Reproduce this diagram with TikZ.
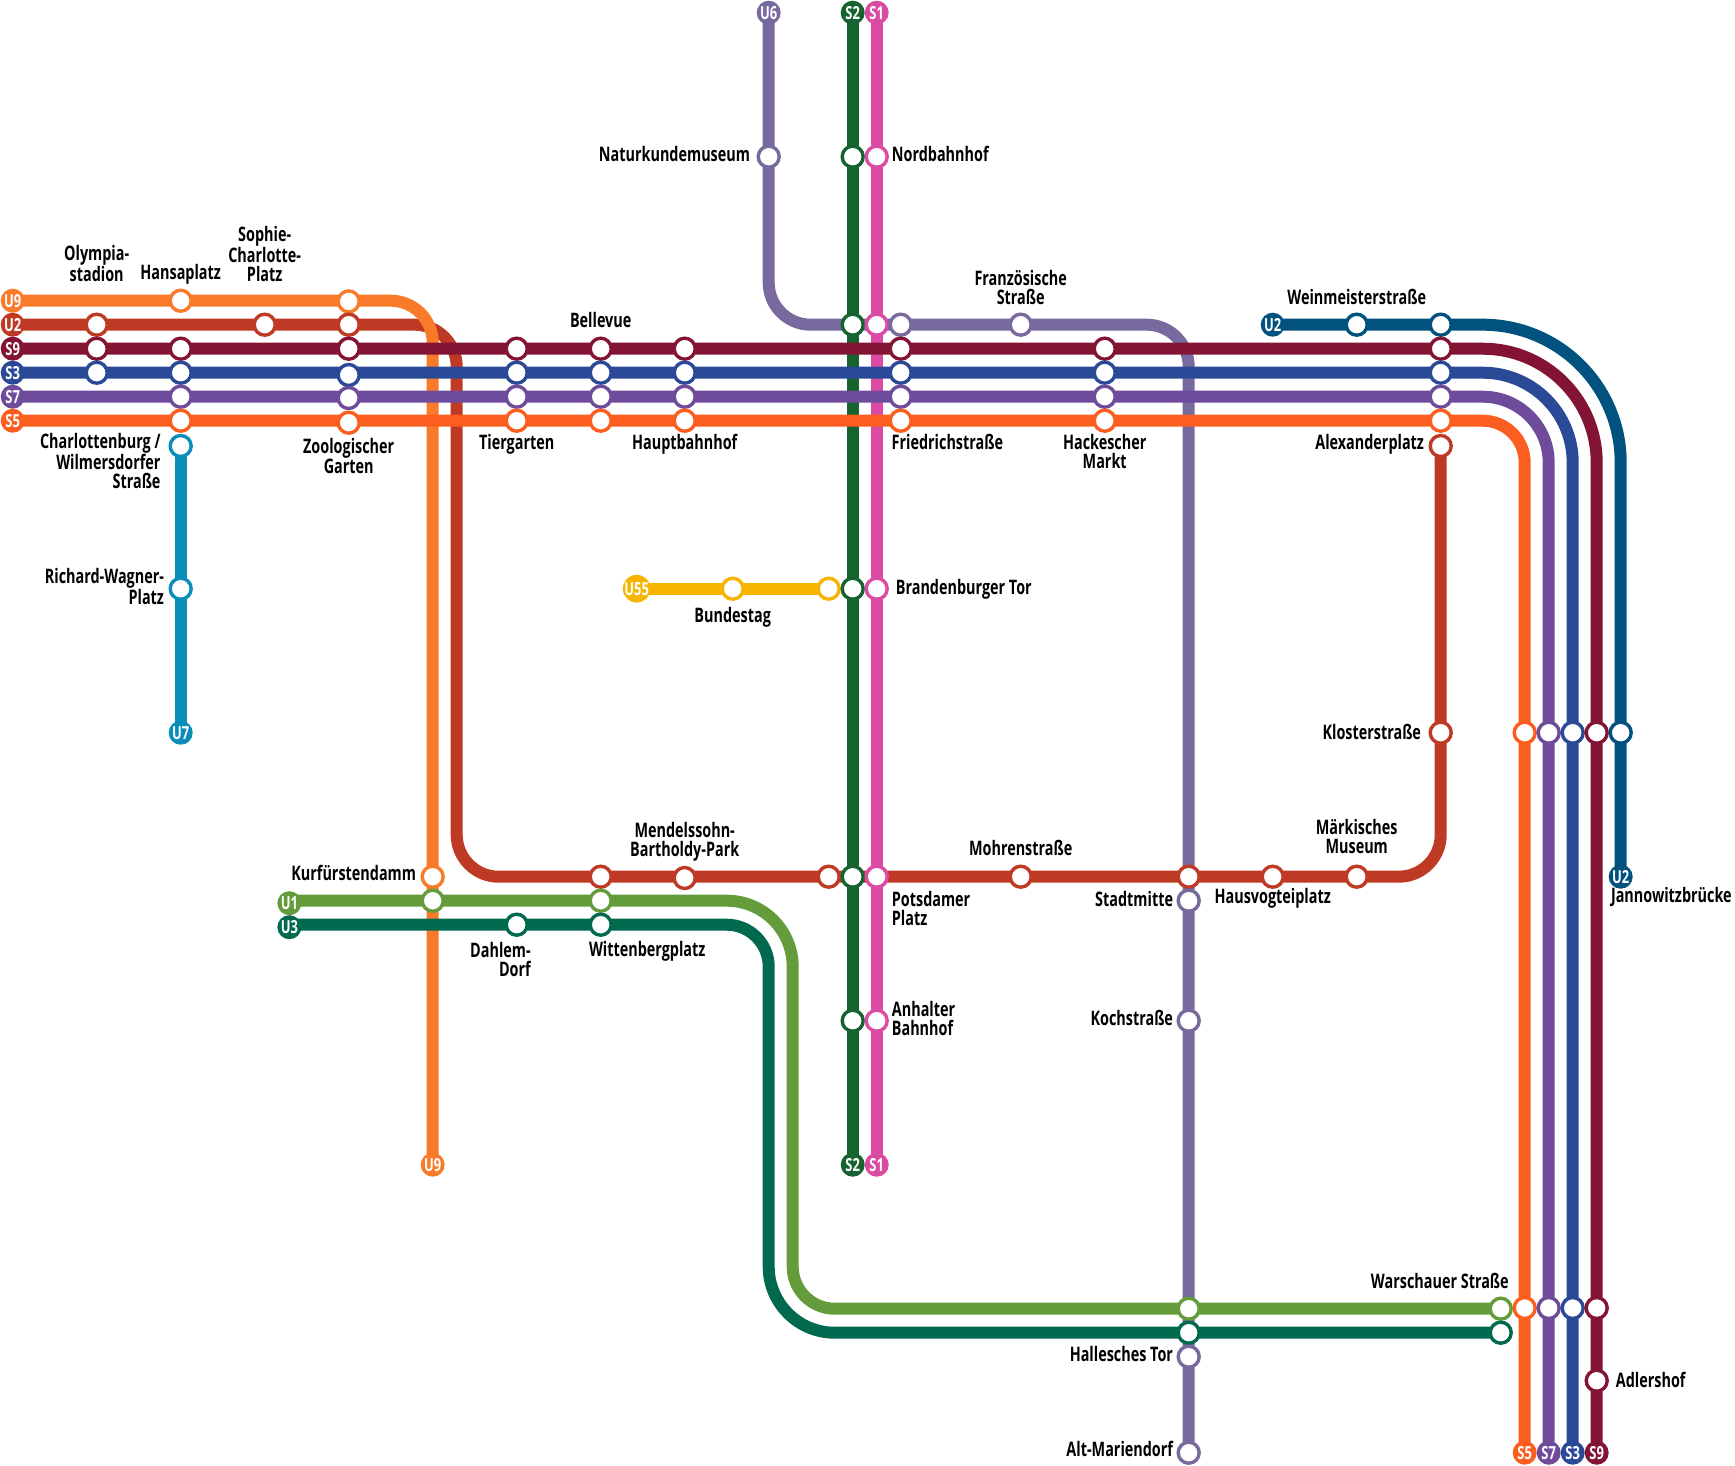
\documentclass[tikz,border=0pt]{standalone}
\usepackage{fontspec}
\setmainfont{Open Sans}[FakeStretch=0.72]
\usetikzlibrary{positioning,backgrounds}

\definecolor{colutwo}{HTML}{BE3A24}
\definecolor{colunine}{HTML}{F97B29}
\definecolor{colsnine}{HTML}{841434}
\definecolor{colsthree}{HTML}{2A4A98}
\definecolor{colsseven}{HTML}{6E4C9B}
\definecolor{colsfive}{HTML}{FB5E1F}
\definecolor{coluseven}{HTML}{0A8DB9}
\definecolor{colusix}{HTML}{786A9E}
\definecolor{colstwo}{HTML}{15632F}
\definecolor{colsone}{HTML}{DB4AA3}
\definecolor{colufivefive}{HTML}{F7B500}
\definecolor{coluone}{HTML}{649C3C}
\definecolor{coluthree}{HTML}{01694E}
\definecolor{colutwoeast}{HTML}{01527F}

\begin{document}
\begin{tikzpicture}[x=1pt, y=-1pt,
  route/.style={line width=12pt, draw=#1},
  stn/.style={draw=#1, fill=white, circle, line width=3.4pt, minimum size=21pt, inner sep=0pt},
  term/.style={fill=#1, circle, minimum size=24pt, inner sep=0pt, outer sep=0pt, text=white, font=\fontsize{18}{18}\selectfont\bfseries},
  lbl/.style={inner sep=0pt, outer sep=0pt, align=center, text height=14pt, text depth=4pt, font=\fontsize{20}{19}\selectfont\bfseries},
  lbm/.style={inner sep=0pt, outer sep=0pt, align=center, font=\fontsize{20}{19}\selectfont\bfseries}]
\useasboundingbox (0,0) rectangle (1735,1466);

% west ends
\node (u9w) [term=colunine] at (12.7,300.7) {U9};
\node (u2w) [term=colutwo] at (12.7,324.7) {U2};
\node (s9w) [term=colsnine] at (12.7,348.7) {S9};
\node (s3w) [term=colsthree] at (12.7,372.7) {S3};
\node (s7w) [term=colsseven] at (12.7,396.7) {S7};
\node (s5w) [term=colsfive] at (12.7,420.7) {S5};
\node (u1w) [term=coluone] at (289.4,903.2) {U1};
\node (u3w) [term=coluthree] at (289.4,927.2) {U3};
\node (u55w) [term=colufivefive] at (636.7,588.7) {U55};
\node (u2e) [term=colutwoeast] at (1272.7,324.7) {U2};
% north ends
\node (u6n) [term=colusix] at (768.7,12.7) {U6};
\node (s2n) [term=colstwo] at (852.7,12.7) {S2};
\node (s1n) [term=colsone] at (876.7,12.7) {S1};
% south ends
\node (u7s) [term=coluseven] at (180.7,732.7) {U7};
\node (u9s) [term=colunine] at (432.7,1164.7) {U9};
\node (s2s) [term=colstwo] at (852.7,1164.7) {S2};
\node (s1s) [term=colsone] at (876.7,1164.7) {S1};
\node (u2s) [term=colutwoeast] at (1620.7,876.7) {U2};
\node (s5s) [term=colsfive] at (1524.7,1452.7) {S5};
\node (s7s) [term=colsseven] at (1548.7,1452.7) {S7};
\node (s3s) [term=colsthree] at (1572.7,1452.7) {S3};
\node (s9s) [term=colsnine] at (1596.7,1452.7) {S9};

% stations, west part
\node (olyu2) [stn=colutwo] at (96.7,324.7) {};
\node (olys9) [stn=colsnine] at (96.7,348.7) {};
\node (olys3) [stn=colsthree] at (96.7,372.7) {};
\node (hanu9) [stn=colunine] at (180.7,300.7) {};
\node (hans9) [stn=colsnine] at (180.7,348.7) {};
\node (hans3) [stn=colsthree] at (180.7,372.7) {};
\node (hans7) [stn=colsseven] at (180.7,396.7) {};
\node (hans5) [stn=colsfive] at (180.7,420.7) {};
\node (chau7) [stn=coluseven] at (180.7,446) {};
\node (wagu7) [stn=coluseven] at (180.7,588.7) {};
\node (sopu2) [stn=colutwo] at (264.7,324.7) {};
\node (zoou9) [stn=colunine] at (348.7,301.4) {};
\node (zoou2) [stn=colutwo] at (348.7,324.7) {};
\node (zoos9) [stn=colsnine] at (348.7,348.7) {};
\node (zoos3) [stn=colsthree] at (348.7,375) {};
\node (zoos7) [stn=colsseven] at (348.7,398) {};
\node (zoos5) [stn=colsfive] at (348.7,422.7) {};
\node (tiers9) [stn=colsnine] at (516.7,348.7) {};
\node (tiers3) [stn=colsthree] at (516.7,372.7) {};
\node (tiers7) [stn=colsseven] at (516.7,396.7) {};
\node (tiers5) [stn=colsfive] at (516.7,420.7) {};
\node (bels9) [stn=colsnine] at (600.7,348.7) {};
\node (bels3) [stn=colsthree] at (600.7,372.7) {};
\node (bels7) [stn=colsseven] at (600.7,396.7) {};
\node (bels5) [stn=colsfive] at (600.7,420.7) {};
\node (hbfs9) [stn=colsnine] at (684.7,348.7) {};
\node (hbfs3) [stn=colsthree] at (684.7,372.7) {};
\node (hbfs7) [stn=colsseven] at (684.7,396.7) {};
\node (hbfs5) [stn=colsfive] at (684.7,420.7) {};
% stations, north-south axis
\node (natu6) [stn=colusix] at (768.7,156.7) {};
\node (nors2) [stn=colstwo] at (852.7,156.7) {};
\node (nors1) [stn=colsone] at (876.7,156.7) {};
\node (fris2) [stn=colstwo] at (852.7,324.7) {};
\node (fris1) [stn=colsone] at (876.7,324.7) {};
\node (friu6) [stn=colusix] at (900.7,324.7) {};
\node (fris9) [stn=colsnine] at (900.7,348.7) {};
\node (fris3) [stn=colsthree] at (900.7,372.7) {};
\node (fris7) [stn=colsseven] at (900.7,396.7) {};
\node (fris5) [stn=colsfive] at (900.7,420.7) {};
\node (bunu55) [stn=colufivefive] at (732.7,588.7) {};
\node (brau55) [stn=colufivefive] at (828.7,588.7) {};
\node (bras2) [stn=colstwo] at (852.7,588.7) {};
\node (bras1) [stn=colsone] at (876.7,588.7) {};
\node (potu2) [stn=colutwo] at (828.7,876.7) {};
\node (pots2) [stn=colstwo] at (852.7,876.7) {};
\node (pots1) [stn=colsone] at (876.7,876.7) {};
\node (anhs2) [stn=colstwo] at (852.7,1020.7) {};
\node (anhs1) [stn=colsone] at (876.7,1020.7) {};
% stations, east part
\node (frau6) [stn=colusix] at (1020.7,324.7) {};
\node (hacs9) [stn=colsnine] at (1104.7,348.7) {};
\node (hacs3) [stn=colsthree] at (1104.7,372.7) {};
\node (hacs7) [stn=colsseven] at (1104.7,396.7) {};
\node (hacs5) [stn=colsfive] at (1104.7,420.7) {};
\node (weiu2) [stn=colutwoeast] at (1356.7,324.7) {};
\node (aleu2e) [stn=colutwoeast] at (1440.7,324.7) {};
\node (ales9) [stn=colsnine] at (1440.7,348.7) {};
\node (ales3) [stn=colsthree] at (1440.7,372.7) {};
\node (ales7) [stn=colsseven] at (1440.7,396.7) {};
\node (ales5) [stn=colsfive] at (1440.7,420.7) {};
\node (aleu2) [stn=colutwo] at (1440.7,446) {};
\node (kloru2) [stn=colutwo] at (1440.7,732.7) {};
\node (klos5) [stn=colsfive] at (1524.7,732.7) {};
\node (klos7) [stn=colsseven] at (1548.7,732.7) {};
\node (klos3) [stn=colsthree] at (1572.7,732.7) {};
\node (klos9) [stn=colsnine] at (1596.7,732.7) {};
\node (klou2e) [stn=colutwoeast] at (1620.7,732.7) {};
% stations, south part
\node (kuru9) [stn=colunine] at (432.7,876.7) {};
\node (kuru1) [stn=coluone] at (432.7,900.7) {};
\node (dahu3) [stn=coluthree] at (516.7,924.7) {};
\node (witu2) [stn=colutwo] at (600.7,876.7) {};
\node (witu1) [stn=coluone] at (600.7,900.7) {};
\node (witu3) [stn=coluthree] at (600.7,924.7) {};
\node (menu2) [stn=colutwo] at (684.7,878) {};
\node (mohu2) [stn=colutwo] at (1020.7,876.7) {};
\node (stau2) [stn=colutwo] at (1188.7,876.7) {};
\node (stau6) [stn=colusix] at (1188.7,900.7) {};
\node (kocu6) [stn=colusix] at (1188.7,1020.7) {};
\node (hauu2) [stn=colutwo] at (1272.7,876.7) {};
\node (maru2) [stn=colutwo] at (1356.7,876.7) {};
\node (warbu1) [stn=coluone] at (1188.7,1308.7) {};
\node (warbu3) [stn=coluthree] at (1188.7,1332.7) {};
\node (halu6) [stn=colusix] at (1188.7,1356.7) {};
\node (altu6) [stn=colusix] at (1188.7,1452.7) {};
\node (waru1) [stn=coluone] at (1500.7,1308.7) {};
\node (waru3) [stn=coluthree] at (1500.7,1332.7) {};
\node (wars5) [stn=colsfive] at (1524.7,1308) {};
\node (wars7) [stn=colsseven] at (1548.7,1308) {};
\node (wars3) [stn=colsthree] at (1572.7,1308) {};
\node (wars9) [stn=colsnine] at (1596.7,1308) {};
\node (adls9) [stn=colsnine] at (1596.7,1380.7) {};

% corners
\coordinate (u9c) at (432.7,300.7);
\coordinate (u2ca) at (456.7,324.7);
\coordinate (u2cb) at (456.7,876.7);
\coordinate (u2cc) at (1440.7,876.7);
\coordinate (u6ca) at (768.7,324.7);
\coordinate (u6cb) at (1188.7,324.7);
\coordinate (u1st) at (289.4,900.7);
\coordinate (u1ca) at (792.7,900.7);
\coordinate (u1cb) at (792.7,1308.7);
\coordinate (u3st) at (289.4,924.7);
\coordinate (u3ca) at (768.7,924.7);
\coordinate (u3cb) at (768.7,1332.7);
\coordinate (s5c) at (1524.7,420.7);
\coordinate (s7c) at (1548.7,396.7);
\coordinate (s3c) at (1572.7,372.7);
\coordinate (s9c) at (1596.7,348.7);
\coordinate (u2ec) at (1620.7,324.7);

\begin{pgfonlayer}{background}
\draw[route=colstwo] (s2n.center) -- (s2s.center);
\draw[route=colsone] (s1n.center) -- (s1s.center);
\draw[route=colusix, rounded corners=42pt] (u6n.center) -- (u6ca) -- (u6cb) -- (altu6.center);
\draw[route=coluseven] (chau7.center) -- (u7s.center);
\draw[route=colufivefive] (u55w.center) -- (brau55.center);
\draw[route=colutwo, rounded corners=42pt] (u2w.center) -- (u2ca) -- (u2cb) -- (u2cc) -- (aleu2.center);
\draw[route=colunine, rounded corners=42pt] (u9w.center) -- (u9c) -- (u9s.center);
\draw[route=coluone, rounded corners=66pt] (u1st) -- (u1ca) [rounded corners=42pt] -- (u1cb) -- (waru1.center);
\draw[route=coluthree, rounded corners=42pt] (u3st) -- (u3ca) [rounded corners=66pt] -- (u3cb) -- (waru3.center);
\draw[route=colutwoeast, rounded corners=138pt] (u2e.center) -- (u2ec) -- (u2s.center);
\draw[route=colsnine, rounded corners=114pt] (s9w.center) -- (s9c) -- (s9s.center);
\draw[route=colsthree, rounded corners=90pt] (s3w.center) -- (s3c) -- (s3s.center);
\draw[route=colsseven, rounded corners=66pt] (s7w.center) -- (s7c) -- (s7s.center);
\draw[route=colsfive, rounded corners=42pt] (s5w.center) -- (s5c) -- (s5s.center);
\end{pgfonlayer}

% station names
\node (olympia) [lbm, above=30.5pt of olyu2] {Olympia-\\stadion};
\node (hansa) [lbl, above=5pt of hanu9] {Hansaplatz};
\node (sophie) [lbm, above=30.5pt of sopu2] {Sophie-\\Charlotte-\\Platz};
\node (charl) [lbm, align=right, left=8pt of chau7, anchor=north east, yshift=13pt] {Charlottenburg /\\Wilmersdorfer\\Straße};
\node (wagner) [lbm, align=right, left=4.5pt of wagu7, yshift=2pt] {Richard-Wagner-\\Platz};
\node (zoo) [lbm, below=3.5pt of zoos5] {Zoologischer\\Garten};
\node (tier) [lbl, below=3pt of tiers5] {Tiergarten};
\node (belle) [lbl, above=5pt of bels9] {Bellevue};
\node (hbf) [lbl, below=3pt of hbfs5] {Hauptbahnhof};
\node (natur) [lbl, left=6.5pt of natu6] {Naturkundemuseum};
\node (nord) [lbl, right=3pt of nors1] {Nordbahnhof};
\node (fried) [lbl, below=3pt of fris5, anchor=north west, xshift=-9pt] {Friedrichstraße};
\node (franz) [lbm, above=7.5pt of frau6] {Französische\\Straße};
\node (hack) [lbm, below=1.5pt of hacs5] {Hackescher\\Markt};
\node (wein) [lbl, above=4pt of weiu2] {Weinmeisterstraße};
\node (alex) [lbl, left=4.5pt of aleu2, yshift=2pt] {Alexanderplatz};
\node (brand) [lbl, right=7pt of bras1, yshift=-1pt] {Brandenburger Tor};
\node (bund) [lbl, below=8pt of bunu55] {Bundestag};
\node (klost) [lbl, left=7.5pt of kloru2, yshift=-2pt] {Klosterstraße};
\node (janno) [lbl, below=0pt of u2s, anchor=north west, xshift=-9.7pt] {Jannowitzbrücke};
\node (kurf) [lbl, left=4.5pt of kuru9, yshift=1pt] {Kurfürstendamm};
\node (mend) [lbm, above=5pt of menu2] {Mendelssohn-\\Bartholdy-Park};
\node (mohr) [lbl, above=5pt of mohu2] {Mohrenstraße};
\node (maerk) [lbm, above=11pt of maru2] {Märkisches\\Museum};
\node (potsd) [lbm, align=left, right=3pt of pots1, yshift=-32pt] {Potsdamer\\Platz};
\node (stadt) [lbl, left=3.5pt of stau6, yshift=-1pt] {Stadtmitte};
\node (hausv) [lbl, below=1pt of hauu2] {Hausvogteiplatz};
\node (dahlem) [lbm, align=right, below=5pt of dahu3, anchor=north east, xshift=14pt] {Dahlem-\\Dorf};
\node (witten) [lbl, below=6pt of witu3, anchor=north west, xshift=-11.7pt] {Wittenbergplatz};
\node (anhalt) [lbm, align=left, right=3pt of anhs1, yshift=2pt] {Anhalter\\Bahnhof};
\node (koch) [lbl, left=3.5pt of kocu6] {Kochstraße};
\node (warsch) [lbl, above=4pt of waru1, anchor=south east, xshift=8pt] {Warschauer Straße};
\node (halle) [lbl, left=3.5pt of halu6] {Hallesches Tor};
\node (alt) [lbl, left=3.5pt of altu6, yshift=1pt] {Alt-Mariendorf};
\node (adler) [lbl, right=7pt of adls9, yshift=-2pt] {Adlershof};
\end{tikzpicture}
\end{document}
